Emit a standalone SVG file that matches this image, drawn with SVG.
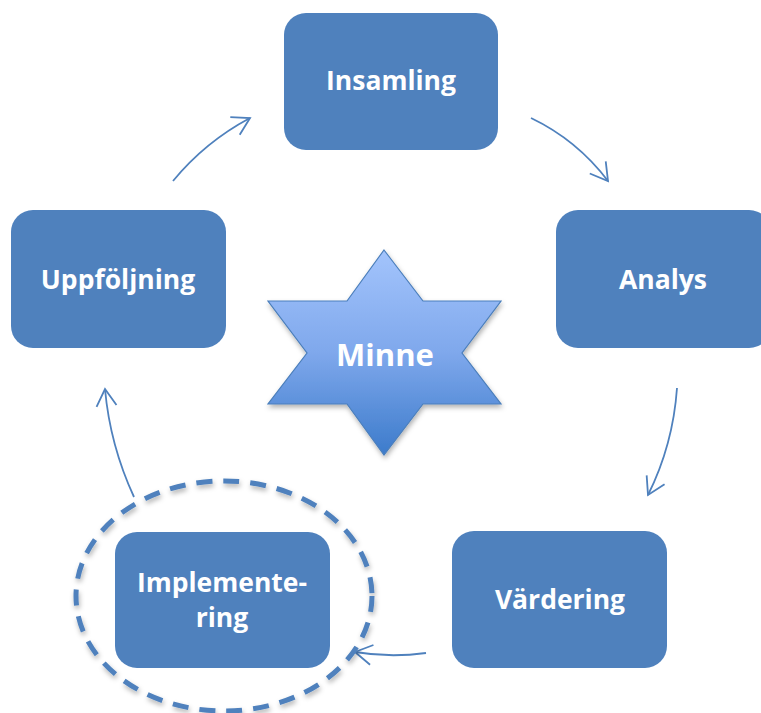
<svg xmlns="http://www.w3.org/2000/svg" width="761" height="713" viewBox="0 0 761 713">
<style>
.box{fill:#4F81BD;}
.lbl{font-family:"Open Sans",Lato,"Liberation Sans",sans-serif;font-weight:bold;font-size:26.5px;fill:#FFFFFF;text-anchor:middle;}
.conn{fill:none;stroke:#4F81BD;stroke-width:1.8;marker-end:url(#arr);}
</style>
<defs>
<marker id="arr" markerUnits="userSpaceOnUse" markerWidth="40" markerHeight="40" refX="0" refY="0" viewBox="-20 -20 40 40" orient="auto" overflow="visible">
<path d="M-17,-10 L0,0 L-17,10" fill="none" stroke="#4F81BD" stroke-width="1.8"/>
</marker>
<linearGradient id="sg" x1="0" y1="0" x2="0" y2="1">
<stop offset="0" stop-color="#A3C4FC"/>
<stop offset="0.5" stop-color="#7FA8EC"/>
<stop offset="1" stop-color="#3C7BCB"/>
</linearGradient>
<filter id="sh" x="-20%" y="-20%" width="140%" height="140%">
<feDropShadow dx="1" dy="3" stdDeviation="2.5" flood-color="#000" flood-opacity="0.3"/>
</filter>
</defs>
<g id="connectors">
<path class="conn" d="M173,181 Q205,142 250,118"/>
<path class="conn" d="M531,118 Q577,140 608,181"/>
<path class="conn" d="M677,388 Q673,445 648,495"/>
<path class="conn" d="M426,653 Q390,658 355,652"/>
<path class="conn" d="M134,497 Q110,445 105,389"/>
</g>
<g id="insamling">
<rect class="box" x="284" y="13" width="214" height="137" rx="22"/>
<text class="lbl" x="391" y="90">Insamling</text>
</g>
<g id="analys">
<rect class="box" x="556" y="210" width="215" height="138" rx="22"/>
<text class="lbl" x="663" y="289">Analys</text>
</g>
<g id="vardering">
<rect class="box" x="452" y="531" width="215" height="137" rx="22"/>
<text class="lbl" x="560" y="609">Värdering</text>
</g>
<g id="implementering">
<rect class="box" x="115" y="532" width="215" height="136" rx="22"/>
<text class="lbl" x="222" y="592">Implemente-</text>
<text class="lbl" x="222" y="627">ring</text>
</g>
<g id="uppfoljning">
<rect class="box" x="11" y="210" width="215" height="138" rx="22"/>
<text class="lbl" x="118" y="289">Uppföljning</text>
</g>
<g id="focus-ring">
<ellipse cx="224" cy="596" rx="148" ry="115" fill="none" stroke="#4F81BD" stroke-width="5" stroke-dasharray="16,11" filter="url(#sh)"/>
</g>
<g id="minne">
<polygon points="384,250 423,301 501,301 462,353 501,404 423,404 384,455 347,404 268,404 307,353 268,301 347,301" fill="url(#sg)" stroke="#4A7EBB" stroke-width="1.2" filter="url(#sh)"/>
<text class="lbl" x="385" y="366" style="font-size:31px">Minne</text>
</g>
</svg>
